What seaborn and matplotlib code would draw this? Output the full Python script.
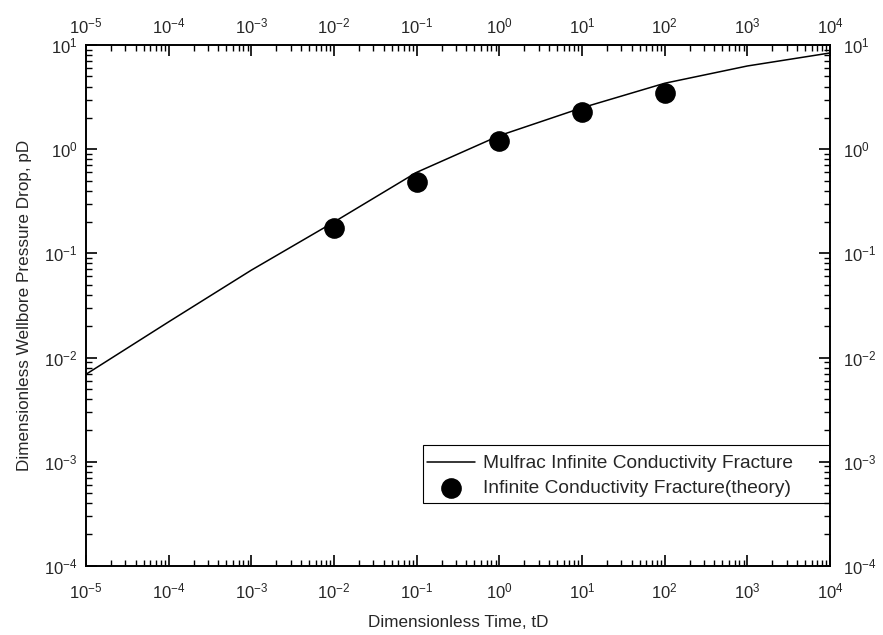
import numpy as np
import pandas as pd
import seaborn as sns
import matplotlib.pyplot as plt
from matplotlib.patches import Rectangle
from matplotlib.ticker import LogLocator, NullFormatter, FixedLocator

# simulated curve (Mulfrac) read at each decade
line_td = [1e-5, 1e-4, 1e-3, 1e-2, 1e-1, 1e0, 1e1, 1e2, 1e3, 1e4]
line_pd = [0.0069, 0.022, 0.069, 0.2, 0.6, 1.35, 2.5, 4.3, 6.3, 8.4]

# theory points
pt_td = [1e-2, 1e-1, 1e0, 1e1, 1e2]
pt_pd = [0.174, 0.484, 1.2, 2.27, 3.47]

x_decades = 10.0 ** np.arange(-5, 5)
y_decades = 10.0 ** np.arange(-4, 2)

line_df = pd.DataFrame({"tD": line_td, "pD": line_pd})
pt_df = pd.DataFrame({"tD": pt_td, "pD": pt_pd})

sns.set_style("ticks")
plt.rcParams['font.family'] = ['Liberation Sans', 'DejaVu Sans']
plt.rcParams['mathtext.default'] = 'regular'

fig = plt.figure(figsize=(8.83, 6.35), dpi=100)
ax = fig.add_axes([0.0974, 0.109, 0.8426, 0.820])

sns.lineplot(data=line_df, x="tD", y="pD", color="black", linewidth=1.1, ax=ax,
             label="Mulfrac Infinite Conductivity Fracture")
sns.scatterplot(data=pt_df, x="tD", y="pD", color="black", s=190, edgecolor="black",
                ax=ax, label="Infinite Conductivity Fracture(theory)", zorder=3)

ax.set_xscale("log")
ax.set_yscale("log")
ax.set_xlim(1e-5, 1e4)
ax.set_ylim(1e-4, 1e1)

def style_axis(axis, decades):
    axis.set_major_locator(FixedLocator(decades))
    axis.set_minor_locator(LogLocator(base=10, subs=np.arange(2, 10), numticks=200))
    axis.set_minor_formatter(NullFormatter())

style_axis(ax.xaxis, x_decades)
style_axis(ax.yaxis, y_decades)

ax.tick_params(which="both", direction="in", top=True, right=True, color="black")
ax.tick_params(which="major", length=8, width=1.2, labelsize=12)
ax.tick_params(which="minor", length=4, width=1.0)
ax.tick_params(axis="x", which="major", pad=11)
ax.tick_params(axis="y", which="major", pad=6)

# labels on top and right
top = ax.secondary_xaxis("top")
top.set_xscale("log")
style_axis(top.xaxis, x_decades)
top.tick_params(which="both", length=0, labelsize=12, pad=6)
right = ax.secondary_yaxis("right")
right.set_yscale("log")
style_axis(right.yaxis, y_decades)
right.tick_params(which="both", length=0, labelsize=12, pad=9)
for sec in (top, right):
    for sp in sec.spines.values():
        sp.set_visible(False)

for sp in ax.spines.values():
    sp.set_linewidth(1.4)
    sp.set_color("black")

ax.set_xlabel("Dimensionless Time, tD", fontsize=12.3, labelpad=10)
ax.set_ylabel("Dimensionless Wellbore Pressure Drop, pD", fontsize=12.3, labelpad=9)

leg = ax.legend(loc="center left", bbox_to_anchor=(0.458, 0.172), borderaxespad=0,
                fontsize=13.8, frameon=False, handlelength=2.5, handletextpad=0.45,
                borderpad=0, labelspacing=0.4)
ax.add_patch(Rectangle((0.453, 0.121), 0.547, 0.111, transform=ax.transAxes,
                       fill=False, edgecolor="black", linewidth=0.8, zorder=4))

fig.savefig("out.png", dpi=100)
